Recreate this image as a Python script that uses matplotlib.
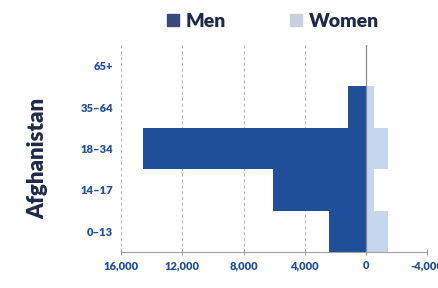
import matplotlib.pyplot as plt
from matplotlib.patches import Patch

# Data
age_groups = ["0\u201313", "14\u201317", "18\u201334", "35\u201364", "65+"]
men = [2400, 6100, 14550, 1200, 0]
women = [1450, 500, 1450, 500, 0]

men_color = "#1f4f98"
women_color = "#c6d6ec"
label_blue = "#1f4e9c"
dark = "#1e2a48"

plt.rcParams["font.family"] = ["Lato", "DejaVu Sans"]

fig = plt.figure(figsize=(4.39, 2.88), dpi=100)
ax = fig.add_axes([0.276, 0.125, 0.697, 0.719])

ypos = range(len(age_groups))
ax.barh(ypos, men, height=1.0, color=men_color)
ax.barh(ypos, [-w for w in women], height=1.0, color=women_color)

ax.set_xlim(16000, -4000)
ax.set_ylim(-0.5, 4.5)

xticks = [16000, 12000, 8000, 4000, 0, -4000]
ax.set_xticks(xticks)
ax.set_xticklabels([f"{t:,}" for t in xticks], fontsize=8, fontweight="heavy", color=label_blue)
ax.set_yticks(list(ypos))
ax.set_yticklabels(age_groups, fontsize=8, fontweight="heavy", color=label_blue)
ax.tick_params(axis="y", length=0, pad=6)
ax.tick_params(axis="x", length=4, direction="inout", color="#a0a0a0", pad=4)

# gridlines
for t in xticks:
    if t == 0:
        ax.axvline(t, color="#8a8a8a", lw=0.9, zorder=3)
    else:
        ax.axvline(t, color="#b0b0b0", lw=0.7, ls=(0, (3, 3)), zorder=0)

for s in ["top", "right", "left"]:
    ax.spines[s].set_visible(False)
ax.spines["bottom"].set_color("#a0a0a0")

fig.text(0.087, 0.45, "Afghanistan", rotation=90, ha="center", va="center",
         fontsize=16, fontweight="heavy", color=dark)

handles = [Patch(color="#3a4a7c", label="Men"), Patch(color="#c9cfdd", label="Women")]
fig.legend(handles=handles, loc="center", bbox_to_anchor=(0.622, 0.925), ncol=2,
           frameon=False, handlelength=0.6, handleheight=0.6, handletextpad=0.35,
           columnspacing=3.3, prop={"size": 14, "weight": "heavy"},
           labelcolor=dark)

fig.savefig("out.png", dpi=100)
